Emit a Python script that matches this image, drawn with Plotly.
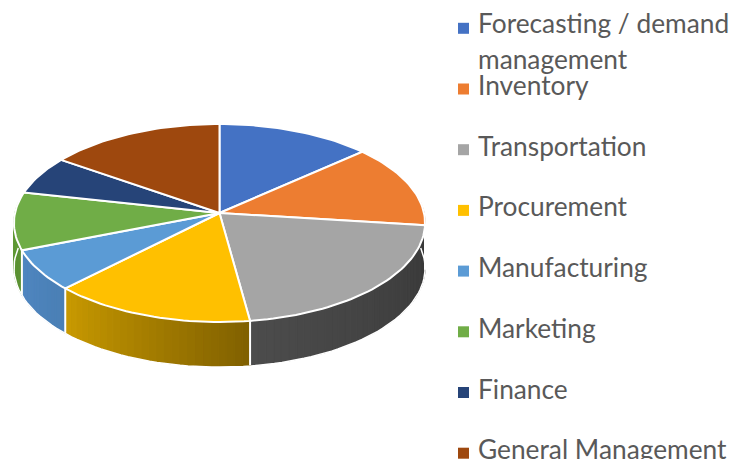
import math
import plotly.graph_objects as go

categories = ["Forecasting / demand management", "Inventory", "Transportation", "Procurement",
              "Manufacturing", "Marketing", "Finance", "General Management"]
values = [13.4, 13.6, 20.9, 14.5, 6.7, 9.4, 6.3, 15.3]
top_colors = ["#4472C4", "#ED7D31", "#A5A5A5", "#FFC000", "#5B9BD5", "#70AD47", "#264478", "#9E480E"]
side_left = ["#2f5597", "#b85f20", "#4c4c4c", "#c99a00", "#4f86c0", "#5f9a35", "#1c3359", "#7a380b"]
side_right = ["#2f5597", "#b85f20", "#383838", "#806000", "#4a7fb5", "#5a9030", "#1c3359", "#7a380b"]

W, H = 747, 459
CX, CY, A, B, K, DEPTH = 219.5, 213.0, 204.5, 98.0, -0.101, 44.5


def proj(deg, r=1.0, dz=0.0):
    t = math.radians(deg)
    u, v = r * math.sin(t), -r * math.cos(t)
    w = 1 + K * v
    return CX + A * u / w, CY + B * v / w + dz


def hex_mix(c1, c2, f):
    a = [int(c1[i:i + 2], 16) for i in (1, 3, 5)]
    b = [int(c2[i:i + 2], 16) for i in (1, 3, 5)]
    return "rgb(%d,%d,%d)" % tuple(round(x + (y - x) * f) for x, y in zip(a, b))


def poly(pts, fill, line="rgba(0,0,0,0)", lw=0):
    return go.Scatter(x=[p[0] for p in pts] + [pts[0][0]], y=[p[1] for p in pts] + [pts[0][1]],
                      mode="lines", fill="toself", fillcolor=fill,
                      line=dict(color=line, width=lw), hoverinfo="skip", showlegend=False)


total = sum(values)
edges = [0.0]
for val in values:
    edges.append(edges[-1] + val / total * 360)

fig = go.Figure()

# side wall, drawn as thin strips so each slice carries its shading
for i, val in enumerate(values):
    a0, a1 = max(edges[i], 84.0), min(edges[i + 1], 276.0)
    if a1 <= a0:
        continue
    n = max(2, int((a1 - a0) / 2))
    for s in range(n):
        d0 = a0 + (a1 - a0) * s / n
        d1 = a0 + (a1 - a0) * (s + 1) / n
        f = (s + 0.5) / n  # 0 at the clockwise start (right side), 1 at left
        col = hex_mix(side_right[i], side_left[i], f)
        pts = [proj(d0), proj(d1), proj(d1, dz=DEPTH), proj(d0, dz=DEPTH)]
        fig.add_trace(poly(pts, col, col, 1.2))

# white rim at the bottom of the wall and separators on the wall
rim = [proj(84 + k * 2, dz=DEPTH + 0.6) for k in range(97)]
fig.add_trace(go.Scatter(x=[p[0] for p in rim], y=[p[1] for p in rim], mode="lines",
                         line=dict(color="white", width=1.5), hoverinfo="skip", showlegend=False))
for e in edges[1:-1]:
    if 95 < e < 275:
        p0, p1 = proj(e), proj(e, dz=DEPTH)
        fig.add_trace(go.Scatter(x=[p0[0], p1[0]], y=[p0[1], p1[1]], mode="lines",
                                 line=dict(color="white", width=2), hoverinfo="skip", showlegend=False))

# top face
for i, val in enumerate(values):
    n = max(4, int((edges[i + 1] - edges[i]) / 1.5))
    pts = [(CX, CY)] + [proj(edges[i] + (edges[i + 1] - edges[i]) * k / n) for k in range(n + 1)]
    fig.add_trace(poly(pts, top_colors[i], "white", 2))

# legend
LEG_TOP, LEG_STEP = 28.3, 60.7
fig.add_trace(go.Scatter(x=[463.5] * len(categories), y=[LEG_TOP + LEG_STEP * i for i in range(len(categories))],
                         mode="markers", marker=dict(symbol="square", size=11, color=top_colors, line=dict(width=0)),
                         hoverinfo="skip", showlegend=False))

FONT = dict(family="Lato", size=26.3, color="#595959")
labels = [(categories[0].replace(" management", ""), 23), ("management", 59)]
labels += [(c, LEG_TOP - 4 + LEG_STEP * (i + 1)) for i, c in enumerate(categories[1:])]
ann = [dict(x=476, y=y, xref="x", yref="y", text=t, showarrow=False, xanchor="left", yanchor="middle",
            font=FONT) for t, y in labels]

fig.update_layout(
    width=W, height=H, margin=dict(l=0, r=0, t=0, b=0), paper_bgcolor="white", plot_bgcolor="white",
    xaxis=dict(range=[0, W], visible=False, fixedrange=True),
    yaxis=dict(range=[H, 0], visible=False, fixedrange=True),
    annotations=ann, showlegend=False,
)
fig.write_html("out.html", config={"displayModeBar": False},
               post_script="document.body.style.margin='0';document.body.style.overflow='hidden';")
